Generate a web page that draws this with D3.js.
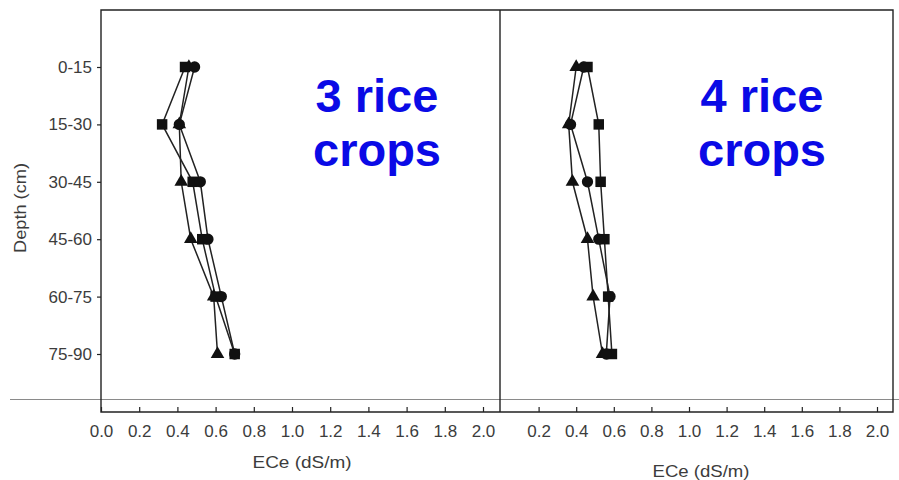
<!DOCTYPE html>
<html>
<head>
<meta charset="utf-8">
<script src="https://cdn.jsdelivr.net/npm/d3@7"></script>
<style>
  html, body { margin: 0; padding: 0; background: #fff; }
  svg { display: block; }
</style>
</head>
<body>
<svg id="chart" width="899" height="480"></svg>
<script>
// Soil depth layers
const depths = ["0-15", "15-30", "30-45", "45-60", "60-75", "75-90"];

// ECe (dS/m) after 3 rice crops
const threeSquare   = [0.44, 0.32, 0.48, 0.53, 0.60, 0.70];
const threeCircle   = [0.49, 0.41, 0.52, 0.56, 0.63, 0.70];
const threeTriangle = [0.46, 0.41, 0.42, 0.47, 0.59, 0.61];

// ECe (dS/m) after 4 rice crops
const fourSquare   = [0.46, 0.52, 0.53, 0.55, 0.57, 0.59];
const fourCircle   = [0.44, 0.37, 0.46, 0.52, 0.58, 0.56];
const fourTriangle = [0.40, 0.36, 0.38, 0.46, 0.49, 0.54];

// Axis tick values
const leftTicks  = [0.0, 0.2, 0.4, 0.6, 0.8, 1.0, 1.2, 1.4, 1.6, 1.8, 2.0];
const rightTicks = [0.2, 0.4, 0.6, 0.8, 1.0, 1.2, 1.4, 1.6, 1.8, 2.0];

const svg = d3.select("#chart");
const frameTop = 10, frameBottom = 412;
const leftX0 = 101, divider = 500, rightEdge = 893;

const y = d3.scalePoint().domain(depths).range([67, 354]);
const xLeft  = d3.scaleLinear().domain([0, 2]).range([101, 483]);
const xRight = d3.scaleLinear().domain([0, 2]).range([501, 877]);

const ink = "#222";
const textCol = "#3c3c3c";
const font = "Liberation Sans, Arial, sans-serif";

// horizontal grey rule across the figure
svg.append("line")
  .attr("x1", 10).attr("x2", 899)
  .attr("y1", 399.5).attr("y2", 399.5)
  .attr("stroke", "#8a8a8a").attr("stroke-width", 1);

// frame
svg.append("path")
  .attr("d", `M${leftX0},${frameBottom} L${leftX0},${frameTop} L${rightEdge},${frameTop} L${rightEdge},${frameBottom} Z M${divider},${frameTop} L${divider},${frameBottom}`)
  .attr("fill", "none").attr("stroke", ink).attr("stroke-width", 1.4);

function styleAxis(g) {
  g.select(".domain").remove();
  g.selectAll(".tick line").attr("stroke", ink).attr("stroke-width", 1.2);
  g.selectAll(".tick text")
    .attr("fill", textCol)
    .attr("font-family", font)
    .attr("font-size", 17);
}

// x axes (ticks point inward)
svg.append("g")
  .attr("transform", `translate(0,${frameBottom})`)
  .call(d3.axisBottom(xLeft).tickValues(leftTicks).tickFormat(d3.format(".1f"))
    .tickSizeInner(-5).tickSizeOuter(0).tickPadding(13))
  .call(styleAxis);

svg.append("g")
  .attr("transform", `translate(0,${frameBottom})`)
  .call(d3.axisBottom(xRight).tickValues(rightTicks).tickFormat(d3.format(".1f"))
    .tickSizeInner(-5).tickSizeOuter(0).tickPadding(13))
  .call(styleAxis);

// y axis
svg.append("g")
  .attr("transform", `translate(${leftX0},0)`)
  .call(d3.axisLeft(y).tickSizeInner(4).tickSizeOuter(0).tickPadding(5))
  .call(styleAxis);

// axis titles
function title(x, yPos, len) {
  return svg.append("text")
    .attr("x", x).attr("y", yPos)
    .attr("text-anchor", "middle")
    .attr("font-family", font)
    .attr("font-size", 17).attr("fill", textCol)
    .attr("textLength", len).attr("lengthAdjust", "spacingAndGlyphs");
}
title(302, 468, 99).text("ECe (dS/m)");
title(701, 477, 97).text("ECe (dS/m)");

svg.append("text")
  .attr("transform", "translate(26,208) rotate(-90)")
  .attr("text-anchor", "middle")
  .attr("font-family", font)
  .attr("font-size", 17).attr("fill", textCol)
  .attr("textLength", 90).attr("lengthAdjust", "spacingAndGlyphs")
  .text("Depth (cm)");

// profiles
function drawPanel(x, series) {
  const line = d3.line().x(d => x(d.v)).y(d => y(d.depth));
  series.forEach(s => {
    const pts = s.values.map((v, i) => ({ v, depth: depths[i] }));
    svg.append("path")
      .datum(pts)
      .attr("d", line)
      .attr("fill", "none")
      .attr("stroke", ink)
      .attr("stroke-width", 1.5);
  });
  series.forEach(s => {
    const pts = s.values.map((v, i) => ({ v, depth: depths[i] }));
    svg.append("g").selectAll("path")
      .data(pts)
      .join("path")
      .attr("transform", d => `translate(${x(d.v)},${y(d.depth)})`)
      .attr("d", d3.symbol().type(s.symbol).size(s.size)())
      .attr("fill", "#111");
  });
}

drawPanel(xLeft, [
  { values: threeTriangle, symbol: d3.symbolTriangle, size: 80 },
  { values: threeSquare,   symbol: d3.symbolSquare,   size: 110 },
  { values: threeCircle,   symbol: d3.symbolCircle,   size: 100 }
]);

drawPanel(xRight, [
  { values: fourTriangle, symbol: d3.symbolTriangle, size: 80 },
  { values: fourSquare,   symbol: d3.symbolSquare,   size: 110 },
  { values: fourCircle,   symbol: d3.symbolCircle,   size: 100 }
]);

// panel captions
function caption(cx, lines) {
  const t = svg.append("text")
    .attr("text-anchor", "middle")
    .attr("font-family", font)
    .attr("font-weight", "bold")
    .attr("font-size", 47)
    .attr("fill", "#0a0ae6");
  lines.forEach((s, i) => {
    t.append("tspan").attr("x", cx).attr("y", 112 + i * 54).text(s);
  });
}
caption(377, ["3 rice", "crops"]);
caption(762, ["4 rice", "crops"]);
</script>
</body>
</html>
